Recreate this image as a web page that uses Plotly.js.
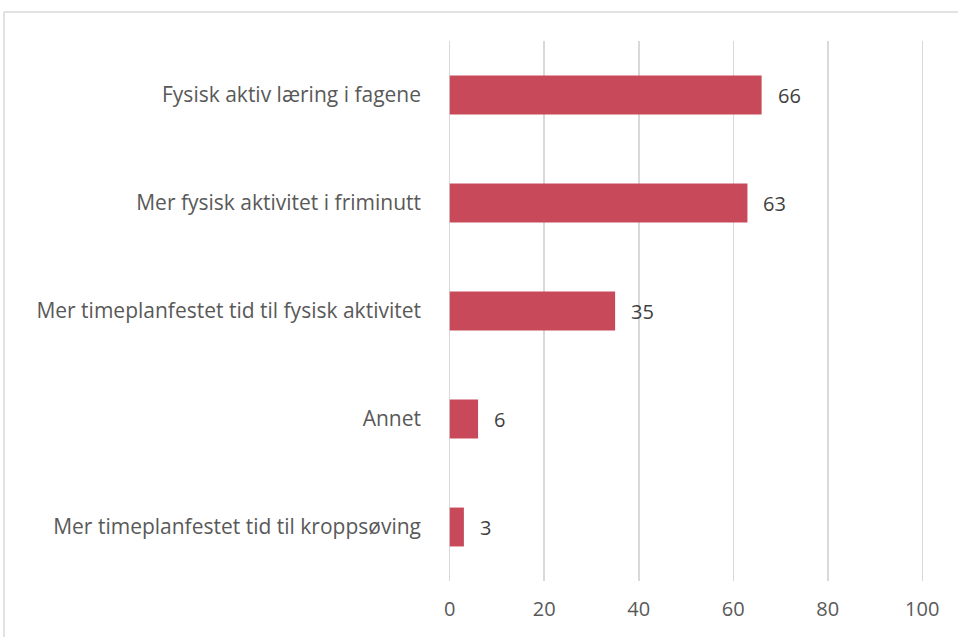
<!DOCTYPE html>
<html><head><meta charset="utf-8">
<script src="https://cdn.plot.ly/plotly-3.0.1.min.js"></script>
<style>html,body{margin:0;padding:0;background:#fff;}</style>
</head><body>
<div id="chart" style="width:958px;height:637px;"></div>
<script>
const categories = ["Mer timeplanfestet tid til kroppsøving", "Annet", "Mer timeplanfestet tid til fysisk aktivitet", "Mer fysisk aktivitet i friminutt", "Fysisk aktiv læring i fagene"];
const values = [3, 6, 35, 63, 66];
const tickVals = [0, 20, 40, 60, 80, 100];

const trace = {
  type: 'bar', orientation: 'h',
  x: values, y: categories,
  marker: {color: '#C84A5A'},
  width: 0.36,
  hoverinfo: 'none'
};
const annotations = values.map((v, i) => ({
  x: v, y: categories[i], xref: 'x', yref: 'y',
  text: String(v), showarrow: false, xanchor: 'left', xshift: 14,
  font: {family: 'Open Sans, sans-serif', size: 20, color: '#404040'}
}));
const L = 445, R = 31;
const W = 958 - L - R;
const layout = {
  width: 958, height: 637,
  margin: {l: L, r: R, t: 41, b: 56},
  paper_bgcolor: '#fff', plot_bgcolor: '#fff',
  showlegend: false,
  xaxis: {range: [-1, 101], tickvals: tickVals, showgrid: true, gridcolor: '#d9d9d9', gridwidth: 1.5,
    zeroline: false, showline: false, ticks: '', ticklabelstandoff: 14,
    tickfont: {family: 'Open Sans, sans-serif', size: 20, color: '#595959'}, fixedrange: true},
  yaxis: {showgrid: false, zeroline: false, showline: false, ticks: '', ticklabelstandoff: 23,
    categoryorder: 'array', categoryarray: categories,
    tickfont: {family: 'Open Sans, sans-serif', size: 21, color: '#595959'}, fixedrange: true},
  annotations: annotations,
  shapes: [
    {type: 'line', xref: 'paper', yref: 'paper', x0: (4-L)/W, x1: 1.2, y0: (581-12)/540, y1: (581-12)/540, line: {color: '#d9d9d9', width: 1.5}},
    {type: 'line', xref: 'paper', yref: 'paper', x0: (4-L)/W, x1: (4-L)/W, y0: (581-12)/540, y1: -0.2, line: {color: '#d9d9d9', width: 1.5}}
  ]
};
Plotly.newPlot('chart', [trace], layout, {displayModeBar: false, staticPlot: true});
</script>
</body></html>
